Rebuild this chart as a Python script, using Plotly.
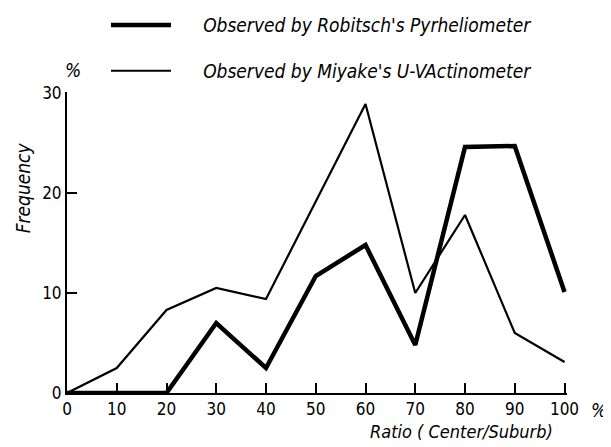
import plotly.graph_objects as go

ratio = [0, 10, 20, 30, 40, 50, 60, 70, 80, 90, 100]
robitsch = [0, 0, 0, 7.0, 2.5, 11.7, 14.8, 4.8, 24.6, 24.7, 10.1]
miyake = [0, 2.5, 8.3, 10.5, 9.4, 19.2, 28.9, 10.0, 17.8, 6.0, 3.1]
x_ticks = [0, 10, 20, 30, 40, 50, 60, 70, 80, 90, 100]
y_ticks = [0, 10, 20, 30]

FONT = "DejaVu Sans Condensed, Liberation Sans Narrow, sans-serif"
PAD = "&nbsp;" * 5

fig = go.Figure()
fig.add_trace(go.Scatter(x=ratio, y=robitsch, mode="lines",
                         line=dict(color="black", width=4.5),
                         name=PAD + "<i>Observed by Robitsch's Pyrheliometer</i>",
                         legendgroup="a"))
fig.add_trace(go.Scatter(x=ratio, y=miyake, mode="lines",
                         line=dict(color="black", width=2.2),
                         name=PAD + "<i>Observed by Miyake's U-VActinometer</i>",
                         legendgroup="b"))

# page body has an 8px margin, so the figure is 8px smaller each way
fig.update_layout(
    width=603, height=439,
    margin=dict(l=59, r=44, t=84, b=54, autoexpand=False),
    paper_bgcolor="white", plot_bgcolor="white",
    font=dict(family=FONT, color="black", size=17),
    showlegend=True,
    legend=dict(x=0.078, y=1.285, xanchor="left", yanchor="top",
                font=dict(size=19, family=FONT), bgcolor="rgba(0,0,0,0)",
                tracegroupgap=18, itemwidth=60),
    xaxis=dict(range=[0, 100.5], tickvals=x_ticks, ticks="inside", ticklen=10,
               tickwidth=1.5, tickcolor="black", showline=True, linecolor="black",
               linewidth=2, showgrid=False, zeroline=False, automargin=False,
               tickfont=dict(size=17, family=FONT)),
    yaxis=dict(range=[0, 30.1], tickvals=y_ticks, ticks="inside", ticklen=10,
               tickwidth=1.5, tickcolor="black", showline=True, linecolor="black",
               linewidth=2, showgrid=False, zeroline=False, automargin=False,
               tickfont=dict(size=17, family=FONT)),
)

fig.add_annotation(text="<i>Ratio ( Center/Suburb)</i>", xref="paper", yref="paper",
                   x=0.976, y=-0.128, xanchor="right", yanchor="middle",
                   showarrow=False, font=dict(size=18, family=FONT))
fig.add_annotation(text="<i>%</i>", xref="paper", yref="paper",
                   x=1.044, y=-0.056, xanchor="left", yanchor="middle",
                   showarrow=False, font=dict(size=19, family=FONT))
fig.add_annotation(text="<i>%</i>", xref="paper", yref="paper",
                   x=0.012, y=1.073, xanchor="center", yanchor="middle",
                   showarrow=False, font=dict(size=19, family=FONT))
fig.add_annotation(text="<i>Frequency</i>", xref="paper", yref="paper",
                   x=-0.088, y=0.68, xanchor="center", yanchor="middle", textangle=-90,
                   showarrow=False, font=dict(size=19, family=FONT))

fig.write_html("out.html")
